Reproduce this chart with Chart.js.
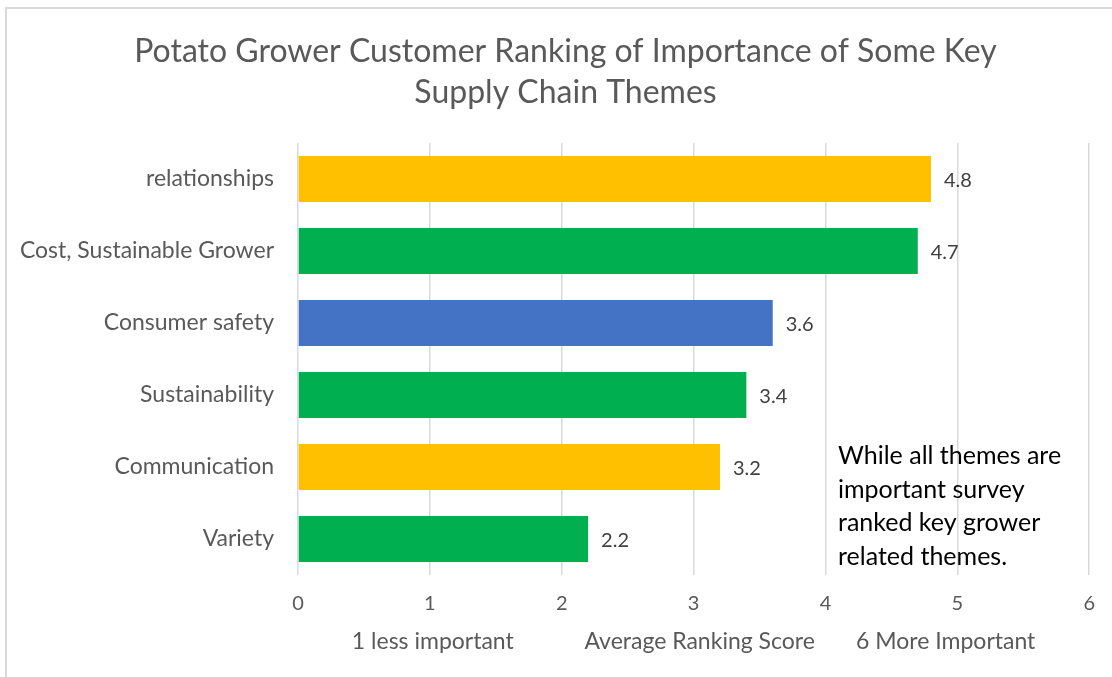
<!DOCTYPE html>
<html>
<head>
<meta charset="utf-8">
<script src="https://cdn.jsdelivr.net/npm/chart.js@4.4.1/dist/chart.umd.min.js"></script>
<style>
  html, body { margin: 0; padding: 0; background: #ffffff; }
  #wrap { position: relative; width: 1112px; height: 677px; overflow: hidden; }
  #frame { position: absolute; left: 5px; top: 7px; width: 1200px; height: 800px;
           border-left: 2px solid #d9d9d9; border-top: 2px solid #d9d9d9; }
  #c { position: absolute; left: 0; top: 0; }
</style>
</head>
<body>
<div id="wrap">
  <div id="frame"></div>
  <canvas id="c" width="1112" height="677"></canvas>
</div>
<script>
// Survey themes, top to bottom
const themes = ['relationships', 'Cost, Sustainable Grower', 'Consumer safety', 'Sustainability', 'Communication', 'Variety'];
// Average ranking score (1 = less important, 6 = more important)
const scores = [4.8, 4.7, 3.6, 3.4, 3.2, 2.2];
const barColors = ['#FFC000', '#00B050', '#4472C4', '#00B050', '#FFC000', '#00B050'];
const titleLines = ['Potato Grower Customer Ranking of Importance of Some Key', 'Supply Chain Themes'];
const axisTitle = '1 less important' + ' '.repeat(12) + 'Average Ranking Score' + ' '.repeat(7) + '6 More Important';
const noteLines = ['While all themes are', 'important survey', 'ranked key grower', 'related themes.'];

const FONT = 'Lato, "Open Sans", sans-serif';
const GREY = '#595959';

// Two-line chart heading, centred on the chart frame
const heading = {
  id: 'heading',
  afterDraw(chart) {
    const ctx = chart.ctx;
    ctx.save();
    ctx.font = '32px ' + FONT;
    ctx.fillStyle = GREY;
    ctx.textAlign = 'center';
    ctx.textBaseline = 'middle';
    titleLines.forEach((t, i) => ctx.fillText(t, 565.5, 51.5 + i * 41));
    ctx.restore();
  }
};

// Value labels at the end of each bar
const valueLabels = {
  id: 'valueLabels',
  afterDatasetsDraw(chart) {
    const ctx = chart.ctx;
    const meta = chart.getDatasetMeta(0);
    ctx.save();
    ctx.font = '20px ' + FONT;
    ctx.fillStyle = '#404040';
    ctx.textAlign = 'left';
    ctx.textBaseline = 'middle';
    meta.data.forEach((bar, i) => {
      ctx.fillText(String(scores[i]), bar.x + 13, bar.y + 2);
    });
    ctx.restore();
  }
};

// Free-standing note inside the plot area
const note = {
  id: 'note',
  afterDraw(chart) {
    const ctx = chart.ctx;
    ctx.save();
    ctx.font = '25px ' + FONT;
    ctx.fillStyle = '#000000';
    ctx.textAlign = 'left';
    ctx.textBaseline = 'middle';
    noteLines.forEach((t, i) => ctx.fillText(t, 838, 456 + i * 33.5));
    ctx.restore();
  }
};

new Chart(document.getElementById('c'), {
  type: 'bar',
  data: {
    labels: themes,
    datasets: [{
      data: scores,
      backgroundColor: barColors,
      borderWidth: 0,
      barPercentage: 0.64,
      categoryPercentage: 1.0
    }]
  },
  options: {
    indexAxis: 'y',
    responsive: false,
    animation: false,
    layout: { padding: { left: 8, right: 21, top: 143, bottom: 0 } },
    plugins: {
      legend: { display: false },
      tooltip: { enabled: false },
      title: { display: false }
    },
    scales: {
      x: {
        min: 0,
        max: 6,
        ticks: { stepSize: 1, color: GREY, font: { family: FONT, size: 20 }, padding: 17 },
        grid: { color: '#d9d9d9', lineWidth: 1.5, drawTicks: false },
        border: { display: false },
        title: {
          display: true,
          text: axisTitle,
          color: GREY,
          font: { family: FONT, size: 23 },
          padding: { top: 0, bottom: 22 }
        },
        afterFit(scale) { scale.height = 102; }
      },
      y: {
        ticks: { color: GREY, font: { family: FONT, size: 23 }, padding: 24 },
        grid: { display: false, drawTicks: false },
        border: { display: false },
        afterFit(scale) { scale.width = 290; }
      }
    }
  },
  plugins: [heading, valueLabels, note]
});
</script>
</body>
</html>
